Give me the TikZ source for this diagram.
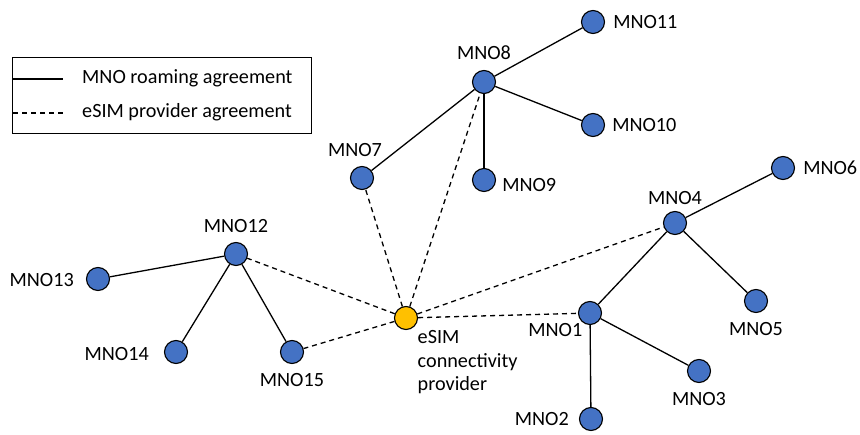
\documentclass[tikz,border=0pt]{standalone}
\usepackage{fontspec}
\setmainfont{Carlito}
\usetikzlibrary{positioning}

\definecolor{mnoblue}{RGB}{68,114,196}
\definecolor{esimgold}{RGB}{255,192,0}

\tikzset{
	mno/.style={circle, draw, line width=1.1pt, fill=mnoblue, minimum size=23pt, inner sep=0pt},
	esim/.style={mno, fill=esimgold},
	lbl/.style={font=\fontsize{20.2}{23.5}\selectfont, inner sep=0pt},
	roaming/.style={line width=1.3pt},
	provider/.style={line width=1.3pt, dash pattern=on 5pt off 4pt},
}

\begin{document}
\begin{tikzpicture}[x=1pt, y=-1pt]
			\useasboundingbox (0,0) rectangle (860,435);
			% legend
			\node[draw, line width=1pt, minimum width=299pt, minimum height=76pt, inner sep=0pt, anchor=north west] (legend) at (12,57) {};
			\coordinate (solid-a) at (13,79);
			\coordinate (solid-b) at (63,79);
			\coordinate (dash-a) at (13,113);
			\coordinate (dash-b) at (63,113);
			\draw[roaming] (solid-a) -- (solid-b);
			\draw[provider] (dash-a) -- (dash-b);
			\node[lbl, anchor=west] (legend-roaming) at (82,78) {MNO roaming agreement};
			\node[lbl, anchor=west] (legend-provider) at (82,112) {eSIM provider agreement};

			% operators
			\node[mno, label={[lbl, label distance=10pt]above:MNO8}] (mno8) at (484,82) {};
			\node[mno, label={[lbl, label distance=8pt]right:MNO11}] (mno11) at (593,22) {};
			\node[mno, label={[lbl, label distance=7pt]right:MNO10}] (mno10) at (593,125) {};
			\node[mno, label={[lbl, label distance=6pt, yshift=-5pt]right:MNO9}] (mno9) at (484,180) {};
			\node[mno, label={[lbl, label distance=9pt, xshift=-7pt]above:MNO7}] (mno7) at (362,178) {};
			\node[mno, label={[lbl, label distance=9pt]above:MNO12}] (mno12) at (236,254) {};
			\node[mno, label={[lbl, label distance=12pt, yshift=-1pt]left:MNO13}] (mno13) at (98,279) {};
			\node[mno, label={[lbl, label distance=15pt, yshift=-2pt]left:MNO14}] (mno14) at (176,352) {};
			\node[mno, label={[lbl, label distance=9pt]below:MNO15}] (mno15) at (292,352) {};
			\node[mno, label={[lbl, label distance=6pt]above:MNO4}] (mno4) at (675,223) {};
			\node[mno, label={[lbl, label distance=8pt]right:MNO6}] (mno6) at (783,168) {};
			\node[mno, label={[lbl, label distance=9pt]below:MNO5}] (mno5) at (756,301) {};
			\node[mno, label={[lbl, anchor=north east, xshift=1pt, yshift=-2pt]south west:MNO1}] (mno1) at (590,313) {};
			\node[mno, label={[lbl, label distance=9pt]below:MNO3}] (mno3) at (699,371) {};
			\node[mno, label={[lbl, label distance=10pt]left:MNO2}] (mno2) at (591,419) {};
			\node[esim, label={[lbl, align=left, anchor=north west, xshift=3pt, yshift=-4pt]south east:eSIM\\connectivity\\provider}] (esim) at (406,318) {};

			% roaming agreements
			\path[roaming]
			(mno8) edge (mno11)
				edge (mno10)
				edge (mno9)
				edge (mno7)
			(mno12) edge (mno13)
				edge (mno14)
				edge (mno15)
			(mno4) edge (mno6)
				edge (mno5)
				edge (mno1)
			(mno1) edge (mno3)
				edge (mno2);
			% eSIM provider agreements
			\path[provider]
			(esim) edge (mno7)
				edge (mno8)
				edge (mno12)
				edge (mno15)
				edge (mno4)
				edge (mno1);
		\end{tikzpicture}
\end{document}
